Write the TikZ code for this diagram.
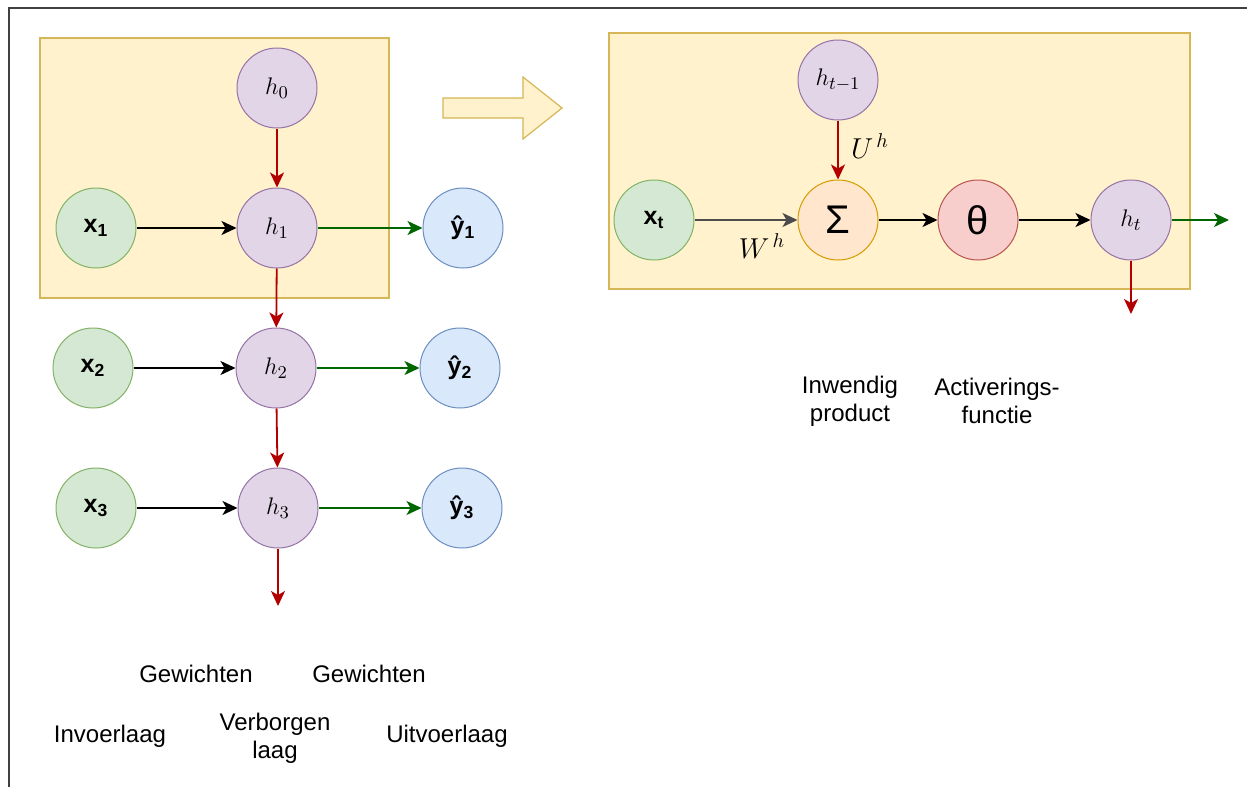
\documentclass[tikz,border=0pt]{standalone}
\usepackage{fontspec}
\setmainfont{Liberation Sans}
\usetikzlibrary{arrows.meta}
\definecolor{boxfill}{HTML}{FFF2CC}
\definecolor{boxline}{HTML}{D6B656}
\definecolor{hidfill}{HTML}{E1D5E7}
\definecolor{hidline}{HTML}{9673A6}
\definecolor{infill}{HTML}{D5E8D4}
\definecolor{inline}{HTML}{82B366}
\definecolor{outfill}{HTML}{DAE8FC}
\definecolor{outline}{HTML}{6C8EBF}
\definecolor{sumfill}{HTML}{FFE6CC}
\definecolor{sumline}{HTML}{D79B00}
\definecolor{actfill}{HTML}{F8CECC}
\definecolor{actline}{HTML}{B85450}
\definecolor{recred}{HTML}{B20000}
\definecolor{outgreen}{HTML}{006600}
\tikzset{
  neuron/.style={circle, minimum size=40pt, inner sep=0pt, line width=0.5pt},
  hid/.style={neuron, fill=hidfill, draw=hidline, font=\fontsize{13}{15}\selectfont},
  inp/.style={neuron, fill=infill, draw=inline, font=\fontsize{12.5}{15}\selectfont\bfseries},
  outp/.style={neuron, fill=outfill, draw=outline, font=\fontsize{12.5}{15}\selectfont\bfseries},
  sumnode/.style={neuron, fill=sumfill, draw=sumline, font=\fontsize{20}{24}\selectfont},
  actnode/.style={neuron, fill=actfill, draw=actline, font=\fontsize{20}{24}\selectfont},
  panel/.style={fill=boxfill, draw=boxline, line width=0.6pt},
  conn/.style={line width=0.9pt, -{Stealth[length=7.5pt,width=7pt,inset=2pt]}},
  fwd/.style={conn, black},
  rec/.style={conn, recred},
  emit/.style={conn, outgreen},
  caption/.style={font=\fontsize{12}{14}\selectfont, align=center, inner sep=0pt},
  weight/.style={font=\fontsize{14.5}{17}\selectfont, inner sep=0pt}
}
\begin{document}
\begin{tikzpicture}[x=0.5pt, y=-0.5pt]
\useasboundingbox (0,0) rectangle (1247,787);
% outer frame
\draw[line width=1.2pt, black!75] (9,787) -- (9,8) -- (1247,8);

% panels
\draw[panel] (40,38) rectangle (389,298);
\draw[panel] (609,33) rectangle (1190,289);
\draw[panel] (443,98) -- (523,98) -- (523,77) -- (562,108) -- (523,139) -- (523,118) -- (443,118) -- cycle;

% unrolled network
\node[hid] (h0) at (277,88) {$h_0$};
\node[inp] (x1) at (96,228) {x\textsubscript{1}};
\node[hid] (h1) at (277,228) {$h_1$};
\node[outp] (y1) at (463,228) {ŷ\textsubscript{1}};
\node[inp] (x2) at (93,368) {x\textsubscript{2}};
\node[hid] (h2) at (276,368) {$h_2$};
\node[outp] (y2) at (460,368) {ŷ\textsubscript{2}};
\node[inp] (x3) at (96,508) {x\textsubscript{3}};
\node[hid] (h3) at (278,508) {$h_3$};
\node[outp] (y3) at (462,508) {ŷ\textsubscript{3}};
\coordinate (h4) at (278,606);

\draw[rec] (h0) -- (h1);
\draw[rec] (h1) -- (h2);
\draw[rec] (h2) -- (h3);
\draw[rec] (h3) -- (h4);
\draw[fwd] (x1) -- (h1);
\draw[fwd] (x2) -- (h2);
\draw[fwd] (x3) -- (h3);
\draw[emit] (h1) -- (y1);
\draw[emit] (h2) -- (y2);
\draw[emit] (h3) -- (y3);

% single cell
\node[hid] (hp) at (838,80) {$h_{t-1}$};
\node[inp] (xt) at (654,220) {x\textsubscript{t}};
\node[sumnode] (sum) at (838,220) {Σ};
\node[actnode] (act) at (978,220) {θ};
\node[hid] (ht) at (1131,220) {$h_t$};
\coordinate (yout) at (1229,220);
\coordinate (hnext) at (1131,314);

\draw[conn, black!70] (xt) -- (sum);
\draw[rec] (hp) -- (sum);
\draw[fwd] (sum) -- (act);
\draw[fwd] (act) -- (ht);
\draw[emit] (ht) -- (yout);
\draw[rec] (ht) -- (hnext);

\node[weight] (wh) at (762,246) {$W^{\,h}$};
\node[weight] (uh) at (870,146) {$U^{\,h}$};

% captions
\node[caption] (g1) at (196,674) {Gewichten};
\node[caption] (g2) at (369,674) {Gewichten};
\node[caption] (lin) at (110,736) {Invoerlaag};
\node[caption] (lhid) at (275,738) {Verborgen\\laag};
\node[caption] (lout) at (447,736) {Uitvoerlaag};
\node[caption] (cin) at (850,401) {Inwendig\\product};
\node[caption] (cact) at (997,401) {Activerings-\\functie};
\end{tikzpicture}
\end{document}
